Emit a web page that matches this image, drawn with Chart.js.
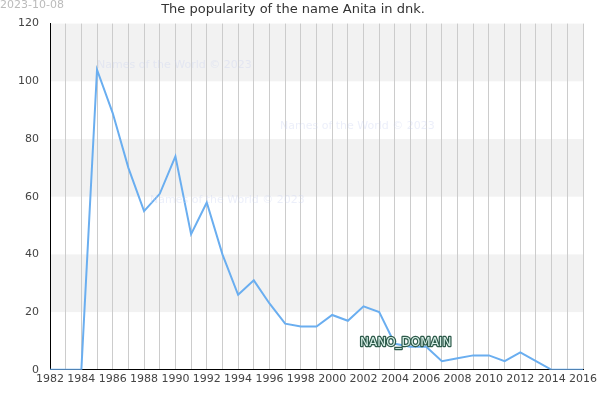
<!DOCTYPE html>
<html><head><meta charset="utf-8">
<script src="https://cdn.jsdelivr.net/npm/chart.js@4"></script>
<style>body{margin:0;background:#fff}#wrap{width:600px;height:400px}</style>
</head><body><div id="wrap"><canvas id="c"></canvas></div>
<script>
var years = [];
for (var y = 1982; y <= 2016; y++) years.push(y);
var counts = [0,0,0,104,89,70,55,61,74,47,58,40,26,31,23,16,15,15,19,17,22,20,9,8,8,3,4,5,5,3,6,3,0,0,0];

var bands = {
    id: 'bands',
    beforeDraw: function (chart) {
        var ctx = chart.ctx, a = chart.chartArea, ys = chart.scales.y;
        ctx.save();
        ctx.fillStyle = '#f2f2f2';
        [[20,40],[60,80],[100,120]].forEach(function (b) {
            var t = ys.getPixelForValue(b[1]), bt = ys.getPixelForValue(b[0]);
            ctx.fillRect(a.left, t, a.right - a.left, bt - t);
        });
        ctx.restore();
    },
    afterDraw: function (chart) {
        var ctx = chart.ctx;
        ctx.save();
        ctx.font = '11px "DejaVu Sans"';
        ctx.fillStyle = '#bbbbbb';
        ctx.fillText('2023-10-08', 0, 8);
        ctx.fillStyle = 'rgba(200,210,240,0.35)';
        ctx.fillText('Names of the World © 2023', 97, 68);
        ctx.fillText('Names of the World © 2023', 280, 129);
        ctx.fillText('Names of the World © 2023', 150, 203);
        ctx.font = '12px "DejaVu Sans"';
        ctx.lineWidth = 2.5;
        ctx.lineJoin = 'round';
        ctx.strokeStyle = '#2d5a4a';
        ctx.strokeText('NANO_DOMAIN', 360, 346);
        ctx.fillStyle = '#d8f0e8';
        ctx.fillText('NANO_DOMAIN', 360, 346);
        ctx.restore();
    }
};

new Chart(document.getElementById('c'), {
    type: 'line',
    data: {
        datasets: [{
            data: years.map(function (y, i) { return {x: y, y: counts[i]}; }),
            borderColor: '#6aaef0',
            borderWidth: 2,
            pointRadius: 0,
            tension: 0
        }]
    },
    options: {
        responsive: true,
        maintainAspectRatio: false,
        animation: false,
        layout: {padding: {right: 14, bottom: 11}},
        plugins: {
            legend: {display: false},
            title: {display: true, text: 'The popularity of the name Anita in dnk.', color: '#333', font: {family: 'DejaVu Sans', size: 13, weight: 'normal'}, padding: {top: 2, bottom: 6}}
        },
        scales: {
            x: {
                type: 'linear', min: 1982, max: 2016,
                ticks: {stepSize: 1, autoSkip: false, maxRotation: 0, color: '#444', font: {family: 'DejaVu Sans', size: 11},
                    callback: function (v) { return v % 2 === 0 ? v : ''; }},
                grid: {color: '#cccccc', drawTicks: false},
                border: {color: '#000'}
            },
            y: {
                min: 0, max: 120,
                afterFit: function (s) { s.width = 50; },
                ticks: {stepSize: 20, color: '#444', font: {family: 'DejaVu Sans', size: 11}},
                grid: {display: false},
                border: {color: '#000'}
            }
        }
    },
    plugins: [bands]
});
</script>
</body></html>
